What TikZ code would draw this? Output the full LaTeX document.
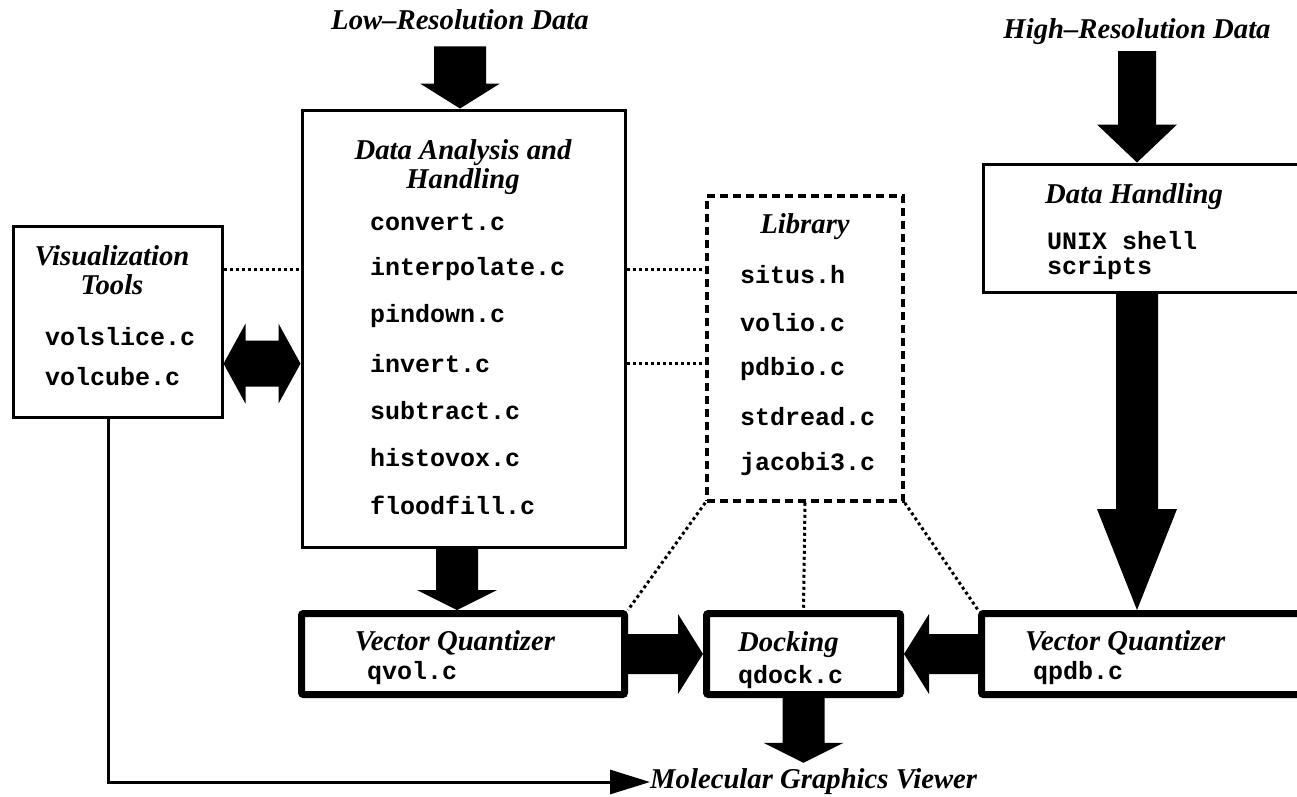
\documentclass[tikz,border=0pt]{standalone}
\usepackage{fontspec}
\setmainfont{Liberation Serif}
\setmonofont{Liberation Mono}
\usetikzlibrary{arrows.meta,calc}

% fat block arrow: from, to, half shaft, half head, head length
\newcommand{\fatarrow}[5]{%
  \coordinate (fa-s) at (#1);
  \coordinate (fa-t) at (#2);
  \coordinate (fa-h) at ($(fa-t)!#5!(fa-s)$);
  \fill ($(fa-s)!#3!90:(fa-t)$) -- ($(fa-h)!#3!90:(fa-t)$) -- ($(fa-h)!#4!90:(fa-t)$)
    -- (fa-t) -- ($(fa-h)!#4!-90:(fa-t)$) -- ($(fa-h)!#3!-90:(fa-t)$)
    -- ($(fa-s)!#3!-90:(fa-t)$) -- cycle;
}
% same, with a head at both ends
\newcommand{\fatboth}[5]{%
  \coordinate (fb-s) at (#1);
  \coordinate (fb-t) at (#2);
  \coordinate (fb-a) at ($(fb-s)!#5!(fb-t)$);
  \coordinate (fb-b) at ($(fb-t)!#5!(fb-s)$);
  \fill (fb-s) -- ($(fb-a)!#4!90:(fb-t)$) -- ($(fb-a)!#3!90:(fb-t)$)
    -- ($(fb-b)!#3!-90:(fb-s)$) -- ($(fb-b)!#4!-90:(fb-s)$) -- (fb-t)
    -- ($(fb-b)!#4!90:(fb-s)$) -- ($(fb-b)!#3!90:(fb-s)$)
    -- ($(fb-a)!#3!-90:(fb-t)$) -- ($(fb-a)!#4!-90:(fb-t)$) -- cycle;
}

\begin{document}
\begin{tikzpicture}[
  x=1pt, y=-1pt,
  titlef/.style={font=\fontsize{28.7}{29}\selectfont\bfseries\itshape, inner sep=0pt, align=center},
  filef/.style={font=\fontsize{25}{25}\selectfont\ttfamily\bfseries, inner sep=0pt, anchor=west, align=left},
  box/.style={draw, line width=3pt},
  thickbox/.style={draw, line width=7pt, rounded corners=2pt},
  libbox/.style={draw, line width=3.5pt, dash pattern=on 8pt off 5pt},
  dotline/.style={line width=3pt, dash pattern=on 3pt off 3pt},
  thinarrow/.style={line width=3pt, -{Triangle[length=40pt,width=24pt]}}
]
\useasboundingbox (0,0) rectangle (1297,796);

% inputs
\node[titlef] (lowtxt) at (460,20) {Low--Resolution Data};
\node[titlef] (hightxt) at (1137,32) {High--Resolution Data};

% boxes
\node[box, minimum width=209pt, minimum height=191pt] (viz) at (117.5,321.5) {};
\node[box, minimum width=323pt, minimum height=437pt] (da) at (463.5,328.5) {};
\node[libbox, minimum width=196pt, minimum height=305pt] (lib) at (805,348.5) {};
\node[box, minimum width=340pt, minimum height=128pt] (dh) at (1153,228) {};
\node[thickbox, minimum width=323pt, minimum height=81pt] (vql) at (463,654) {};
\node[thickbox, minimum width=194pt, minimum height=81pt] (dock) at (803.5,654) {};
\node[thickbox, minimum width=345pt, minimum height=81pt] (vqr) at (1154,654) {};

% box texts
\node[titlef] (viztitle) at (112,270) {Visualization\\Tools};
\node[filef] (vizf1) at (45,337) {volslice.c};
\node[filef] (vizf2) at (45,377) {volcube.c};

\node[titlef] (datitle) at (463,167) {Data Analysis and\\Handling};
\foreach \f [count=\i from 0] in {convert.c,interpolate.c,pindown.c,invert.c,subtract.c,histovox.c,floodfill.c}
  \node[filef] (da\i) at (370,{222+47.2*\i}) {\f};

\node[titlef] (libtitle) at (805,227) {Library};
\foreach \f [count=\i from 0] in {situs.h,volio.c,pdbio.c,stdread.c,jacobi3.c}
  \node[filef] (lib\i) at (740,{275+47.25*\i}) {\f};

\node[titlef, anchor=west] (dhtitle) at (1045,197) {Data Handling};
\node[filef] (dhf) at (1047,256) {UNIX shell\\scripts};

\node[titlef] (vqltitle) at (455,643) {Vector Quantizer};
\node[filef] (vqlf) at (367,673) {qvol.c};
\node[titlef, anchor=west] (docktitle) at (738,645) {Docking};
\node[filef] (dockf) at (738,677) {qdock.c};
\node[titlef, anchor=west] (vqrtitle) at (1025,643) {Vector Quantizer};
\node[filef] (vqrf) at (1033,673) {qpdb.c};

\node[titlef, anchor=west] (mgv) at (650,782) {Molecular Graphics Viewer};

% block arrows
\coordinate (lowin) at ($(lowtxt.south)+(0,16)$);
\coordinate (highin) at ($(hightxt.south)+(0,6)$);
\coordinate (dadown) at (457,0);
\fatarrow{lowin}{lowin |- da.north}{26pt}{40pt}{25pt}
\fatarrow{highin}{highin |- dh.north}{19pt}{40pt}{38pt}
\fatarrow{dh.south -| highin}{vqr.north -| highin}{21pt}{40pt}{101pt}
\fatarrow{da.south -| dadown}{vql.north -| dadown}{21pt}{40pt}{20pt}
\fatarrow{vql.east}{dock.west}{20pt}{40pt}{25pt}
\fatarrow{vqr.west}{dock.east}{20pt}{40pt}{25pt}
\fatarrow{dock.south}{$(dock.south |- mgv.north)+(0,-6)$}{21pt}{40pt}{20pt}
\fatboth{viz.east |- da3}{da.west |- da3}{23pt}{40pt}{22pt}

% dotted links
\draw[dotline] (viz.east |- da1) -- (da.west |- da1);
\draw[dotline] (da.east |- da1) -- (lib.west |- da1);
\draw[dotline] (da.east |- da3) -- (lib.west |- da3);
\draw[dotline] (lib.south west) -- (vql.north east);
\draw[dotline] (lib.south) -- (dock.north);
\draw[dotline] (lib.south east) -- (vqr.north west);

% viewer line
\draw[thinarrow] ([xshift=-9pt]viz.south) |- (mgv.west);

\end{tikzpicture}
\end{document}
